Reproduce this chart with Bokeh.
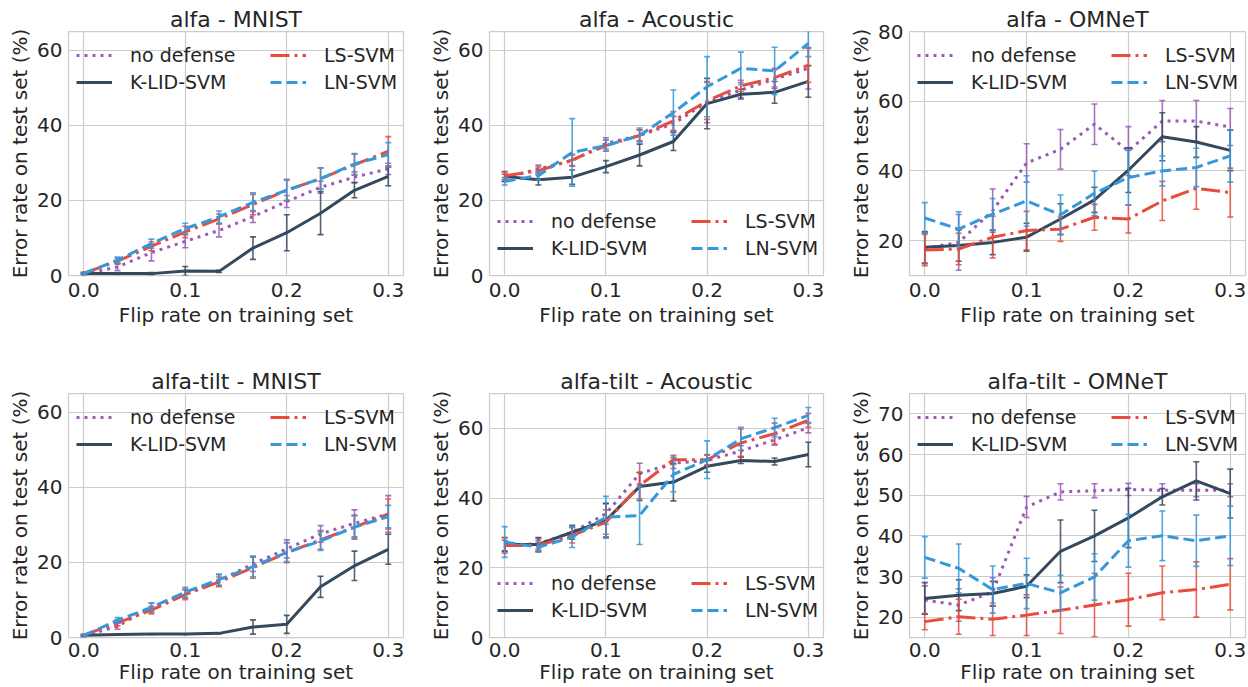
from bokeh.plotting import figure
from bokeh.layouts import row, column
from bokeh.models import Legend, LegendItem, FixedTicker, Range1d, ColumnDataSource, NumeralTickFormatter
from bokeh.embed import file_html
from bokeh.resources import INLINE

flip_rate = [0.0, 0.0333, 0.0667, 0.1, 0.1333, 0.1667, 0.2, 0.2333, 0.2667, 0.3]
series_labels = ["no defense", "K-LID-SVM", "LS-SVM", "LN-SVM"]

# alfa - MNIST
alfa_mnist_nodef = [0.3, 2.3, 6.1, 9.1, 12.0, 15.7, 19.7, 23.5, 26.2, 28.4]
alfa_mnist_nodef_err = [0.4, 1.0, 2.2, 1.7, 1.7, 1.6, 1.6, 1.6, 1.4, 1.5]
alfa_mnist_klid = [0.5, 0.5, 0.5, 1.2, 1.1, 7.3, 11.4, 16.6, 22.7, 26.4]
alfa_mnist_klid_err = [0.2, 0.2, 0.3, 1.2, 0.3, 3.0, 4.8, 5.7, 2.0, 2.5]
alfa_mnist_ls = [0.6, 3.8, 7.8, 11.6, 15.1, 18.9, 22.7, 25.8, 29.5, 33.1]
alfa_mnist_ls_err = [0.3, 0.8, 1.2, 1.5, 1.3, 2.7, 2.9, 2.9, 2.8, 3.9]
alfa_mnist_ln = [0.5, 4.1, 8.5, 12.5, 15.6, 19.5, 22.7, 25.8, 29.7, 32.2]
alfa_mnist_ln_err = [0.3, 0.8, 1.2, 1.4, 1.6, 2.5, 2.7, 2.8, 2.8, 3.2]

# alfa - Acoustic
alfa_acou_nodef = [26.0, 28.4, 30.6, 35.2, 37.3, 40.4, 46.2, 49.4, 52.3, 55.2]
alfa_acou_nodef_err = [1.0, 1.0, 1.5, 1.5, 1.5, 2.0, 5.5, 2.0, 2.5, 5.5]
alfa_acou_klid = [26.4, 25.5, 26.2, 29.0, 32.1, 35.7, 45.8, 48.3, 48.8, 51.7]
alfa_acou_klid_err = [1.3, 1.4, 1.9, 1.6, 2.9, 2.4, 6.7, 1.3, 2.9, 4.2]
alfa_acou_ls = [26.6, 27.9, 30.8, 34.6, 37.3, 41.2, 46.5, 50.5, 52.7, 56.0]
alfa_acou_ls_err = [1.0, 1.0, 1.5, 1.5, 1.5, 2.5, 4.9, 1.5, 2.5, 4.5]
alfa_acou_ln = [25.1, 26.6, 32.8, 34.6, 37.3, 43.4, 50.3, 55.2, 54.5, 61.8]
alfa_acou_ln_err = [1.0, 1.2, 9.0, 1.5, 2.0, 6.0, 8.0, 4.3, 6.3, 3.5]

# alfa - OMNeT
alfa_omnet_nodef = [17.8, 19.5, 28.6, 42.3, 46.2, 53.4, 45.7, 54.3, 54.3, 52.6]
alfa_omnet_nodef_err = [4.5, 8.0, 6.2, 5.5, 5.7, 5.8, 7.0, 5.9, 5.9, 5.3]
alfa_omnet_klid = [18.1, 18.6, 19.5, 21.0, 26.2, 31.7, 40.2, 49.8, 48.3, 45.9]
alfa_omnet_klid_err = [4.5, 4.5, 3.5, 4.0, 4.4, 3.6, 6.4, 6.9, 4.4, 5.8]
alfa_omnet_ls = [17.3, 17.6, 21.0, 22.9, 23.3, 26.7, 26.2, 31.4, 35.0, 33.8]
alfa_omnet_ls_err = [4.5, 4.5, 6.0, 5.5, 3.5, 3.7, 4.0, 5.6, 6.0, 7.0]
alfa_omnet_ln = [26.5, 23.3, 27.6, 31.4, 27.4, 33.6, 38.1, 40.0, 41.0, 44.3]
alfa_omnet_ln_err = [4.4, 5.0, 4.5, 7.2, 5.7, 6.4, 7.8, 4.3, 5.5, 7.5]

# alfa-tilt - MNIST
tilt_mnist_nodef = [0.4, 3.0, 8.0, 11.7, 15.2, 19.6, 23.6, 27.6, 30.4, 32.9]
tilt_mnist_nodef_err = [0.3, 0.8, 1.2, 1.2, 1.5, 2.0, 2.4, 2.2, 3.6, 4.9]
tilt_mnist_klid = [0.6, 0.8, 0.9, 0.9, 1.1, 2.8, 3.5, 13.5, 19.1, 23.5]
tilt_mnist_klid_err = [0.1, 0.1, 0.1, 0.1, 0.1, 1.9, 2.4, 2.8, 3.9, 4.0]
tilt_mnist_ls = [0.6, 3.9, 7.3, 11.4, 14.8, 18.6, 22.6, 26.0, 29.4, 32.9]
tilt_mnist_ls_err = [0.3, 0.8, 1.0, 1.3, 1.3, 2.8, 2.7, 2.5, 3.2, 4.0]
tilt_mnist_ln = [0.5, 4.6, 8.0, 12.1, 15.4, 18.9, 22.7, 25.7, 29.4, 32.2]
tilt_mnist_ln_err = [0.3, 0.7, 1.2, 1.3, 1.5, 2.7, 2.5, 2.5, 3.0, 3.0]

# alfa-tilt - Acoustic
tilt_acou_nodef = [26.4, 26.9, 30.2, 35.5, 47.0, 50.0, 50.8, 53.5, 56.7, 60.2]
tilt_acou_nodef_err = [1.5, 1.5, 1.5, 3.0, 3.0, 1.5, 1.5, 1.5, 1.5, 1.5]
tilt_acou_klid = [26.7, 26.7, 30.2, 33.6, 43.3, 44.6, 49.1, 50.8, 50.5, 52.5]
tilt_acou_klid_err = [2.0, 2.0, 2.0, 4.8, 4.0, 5.4, 1.7, 0.9, 1.0, 3.5]
tilt_acou_ls = [26.4, 26.4, 29.3, 33.1, 43.6, 51.0, 51.0, 55.8, 58.5, 62.3]
tilt_acou_ls_err = [2.2, 1.5, 2.2, 3.5, 3.8, 1.3, 1.5, 4.0, 3.0, 2.0]
tilt_acou_ln = [27.4, 25.9, 28.8, 34.5, 35.0, 46.8, 51.0, 57.0, 60.2, 63.7]
tilt_acou_ln_err = [4.4, 1.4, 3.0, 6.0, 8.3, 5.0, 5.4, 3.3, 2.7, 2.3]

# alfa-tilt - OMNeT
tilt_omnet_nodef = [24.2, 23.0, 26.2, 47.1, 50.8, 51.1, 51.4, 51.2, 51.2, 51.2]
tilt_omnet_nodef_err = [3.5, 4.0, 3.5, 2.6, 2.0, 1.7, 1.5, 1.6, 1.6, 1.6]
tilt_omnet_klid = [24.6, 25.4, 25.8, 27.6, 36.2, 40.0, 44.4, 49.6, 53.5, 50.4]
tilt_omnet_klid_err = [3.9, 3.8, 3.0, 2.8, 7.7, 6.3, 7.3, 2.0, 4.7, 6.0]
tilt_omnet_ls = [18.9, 20.1, 19.5, 20.5, 21.7, 23.0, 24.3, 26.0, 26.8, 28.1]
tilt_omnet_ls_err = [2.0, 4.3, 4.0, 5.0, 5.7, 7.8, 6.5, 6.6, 6.8, 6.3]
tilt_omnet_ln = [34.7, 32.0, 26.8, 28.3, 26.0, 29.9, 38.8, 40.0, 38.8, 40.0]
tilt_omnet_ln_err = [5.1, 6.0, 5.8, 6.2, 4.3, 5.7, 6.5, 6.1, 6.3, 7.3]

COLORS = ["#9b59b6", "#34495e", "#e74c3c", "#3498db"]
DASHES = ["3 5", "solid", "19 5 3 5", "11 5"]
FONT = "DejaVu Sans"
TXT = "#262626"
FRAME_H = 244


def panel(title, ymin, ymax, yticks, data, legend_top, frame_w, left, right, top, bottom,
          xlab_standoff, xtick_standoff):
    p = figure(frame_width=frame_w, frame_height=FRAME_H,
               x_range=Range1d(-0.015, 0.315), y_range=Range1d(ymin, ymax),
               output_backend="svg", toolbar_location=None,
               min_border_left=left, min_border_right=right,
               min_border_top=top, min_border_bottom=bottom,
               background_fill_color="white", border_fill_color="white")
    p.title.text = title
    p.title.align = "center"
    p.title.text_font = FONT
    p.title.text_font_size = "22px"
    p.title.text_font_style = "normal"
    p.title.text_color = TXT
    p.title.standoff = 0
    p.outline_line_color = "#cccccc"
    p.outline_line_width = 1.25
    p.xaxis.ticker = FixedTicker(ticks=[0.0, 0.1, 0.2, 0.3])
    p.xaxis.formatter = NumeralTickFormatter(format="0.0")
    p.yaxis.ticker = FixedTicker(ticks=yticks)
    p.xaxis.axis_label = "Flip rate on training set"
    p.yaxis.axis_label = "Error rate on test set (%)"
    for ax in (p.xaxis, p.yaxis):
        ax.axis_line_color = None
        ax.major_tick_line_color = None
        ax.minor_tick_line_color = None
        ax.major_tick_out = 0
        ax.major_tick_in = 0
        ax.minor_tick_out = 0
        ax.minor_tick_in = 0
        ax.major_label_text_font = FONT
        ax.major_label_text_font_size = "20px"
        ax.major_label_text_color = TXT
        ax.axis_label_text_font = FONT
        ax.axis_label_text_font_size = "20px"
        ax.axis_label_text_font_style = "normal"
        ax.axis_label_text_color = TXT
    p.xaxis.axis_label_standoff = xlab_standoff
    p.yaxis.axis_label_standoff = 2
    p.xaxis.major_label_standoff = xtick_standoff
    p.yaxis.major_label_standoff = 6
    p.grid.grid_line_color = "#cccccc"
    p.grid.grid_line_width = 1.2

    items = []
    for (means, errs), label, color, dash in zip(data, series_labels, COLORS, DASHES):
        src = ColumnDataSource(dict(
            x=flip_rate, y=means,
            lo=[m - e for m, e in zip(means, errs)],
            hi=[m + e for m, e in zip(means, errs)]))
        p.segment(x0="x", y0="lo", x1="x", y1="hi", source=src,
                  line_color=color, line_width=1.6, line_alpha=0.85)
        p.scatter(x="x", y="lo", source=src, marker="dash", size=6,
                  line_color=color, line_width=1.6, line_alpha=0.85)
        p.scatter(x="x", y="hi", source=src, marker="dash", size=6,
                  line_color=color, line_width=1.6, line_alpha=0.85)
        r = p.line(x="x", y="y", source=src, line_color=color, line_width=3,
                   line_dash=dash)
        items.append(LegendItem(label=label, renderers=[r]))

    leg_h = 49
    loc = (8, FRAME_H - 13 - leg_h) if legend_top else (8, 16)
    legend = Legend(items=items, ncols=2, location=loc,
                    label_text_font=FONT, label_text_font_size="19px",
                    label_text_color=TXT, glyph_width=36, glyph_height=22,
                    label_height=22, label_standoff=18, label_width=135,
                    spacing=5, padding=0, margin=0,
                    border_line_alpha=0, background_fill_alpha=0)
    p.add_layout(legend)
    return p


T1, B1 = 31, 57
T2, B2 = 61, 50

p1 = panel("alfa - MNIST", 0, 65, [0, 20, 40, 60],
           [(alfa_mnist_nodef, alfa_mnist_nodef_err), (alfa_mnist_klid, alfa_mnist_klid_err),
            (alfa_mnist_ls, alfa_mnist_ls_err), (alfa_mnist_ln, alfa_mnist_ln_err)],
           True, 335, 68, 18, T1, B1, 3, 7)
p2 = panel("alfa - Acoustic", 0, 65, [0, 20, 40, 60],
           [(alfa_acou_nodef, alfa_acou_nodef_err), (alfa_acou_klid, alfa_acou_klid_err),
            (alfa_acou_ls, alfa_acou_ls_err), (alfa_acou_ln, alfa_acou_ln_err)],
           False, 334, 68, 20, T1, B1, 3, 7)
p3 = panel("alfa - OMNeT", 10, 80, [20, 40, 60, 80],
           [(alfa_omnet_nodef, alfa_omnet_nodef_err), (alfa_omnet_klid, alfa_omnet_klid_err),
            (alfa_omnet_ls, alfa_omnet_ls_err), (alfa_omnet_ln, alfa_omnet_ln_err)],
           True, 336, 66, 3, T1, B1, 3, 7)
p4 = panel("alfa-tilt - MNIST", 0, 65, [0, 20, 40, 60],
           [(tilt_mnist_nodef, tilt_mnist_nodef_err), (tilt_mnist_klid, tilt_mnist_klid_err),
            (tilt_mnist_ls, tilt_mnist_ls_err), (tilt_mnist_ln, tilt_mnist_ln_err)],
           True, 335, 68, 18, T2, B2, 0, 5)
p5 = panel("alfa-tilt - Acoustic", 0, 70, [0, 20, 40, 60],
           [(tilt_acou_nodef, tilt_acou_nodef_err), (tilt_acou_klid, tilt_acou_klid_err),
            (tilt_acou_ls, tilt_acou_ls_err), (tilt_acou_ln, tilt_acou_ln_err)],
           False, 334, 68, 20, T2, B2, 0, 5)
p6 = panel("alfa-tilt - OMNeT", 15, 75, [20, 30, 40, 50, 60, 70],
           [(tilt_omnet_nodef, tilt_omnet_nodef_err), (tilt_omnet_klid, tilt_omnet_klid_err),
            (tilt_omnet_ls, tilt_omnet_ls_err), (tilt_omnet_ln, tilt_omnet_ln_err)],
           True, 336, 66, 3, T2, B2, 0, 5)

layout = column(row(p1, p2, p3), row(p4, p5, p6))
open("out.html", "w").write(file_html(layout, INLINE))
